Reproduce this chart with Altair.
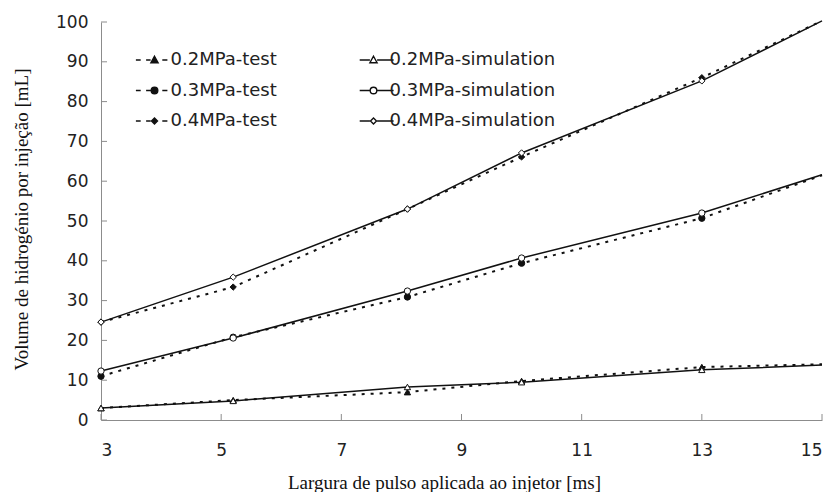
import altair as alt
import pandas as pd

# ---- data ----
pulse_ms = [3, 5.2, 8.1, 10, 13, 15]
test_02 = [3.0, 5.0, 7.0, 9.8, 13.3, 14.0]
sim_02 = [3.0, 4.8, 8.3, 9.5, 12.6, 13.8]
test_03 = [11.0, 20.8, 30.9, 39.4, 50.7, 61.5]
sim_03 = [12.3, 20.6, 32.4, 40.7, 52.0, 61.6]
test_04 = [24.6, 33.4, 53.0, 66.1, 86.0, 100.3]
sim_04 = [24.6, 35.9, 53.0, 67.1, 85.2, 100.3]

series_names = ["0.2MPa-test", "0.3MPa-test", "0.4MPa-test",
                "0.2MPa-simulation", "0.3MPa-simulation", "0.4MPa-simulation"]
series_values = [test_02, test_03, test_04, sim_02, sim_03, sim_04]
x_ticks = [3, 5, 7, 9, 11, 13, 15]
y_ticks = [0, 10, 20, 30, 40, 50, 60, 70, 80, 90, 100]

rows = []
for name, vals in zip(series_names, series_values):
    p, kind = name.split("-")
    for xv, yv in zip(pulse_ms, vals):
        rows.append(dict(series=name, pressure=p, kind=kind, x=xv, y=yv))
df = pd.DataFrame(rows)
# draw hollow (simulation) markers over the filled (test) ones
df["order"] = (df["kind"] == "simulation").astype(int)
df = df.sort_values(["order", "series"], kind="stable").reset_index(drop=True)

INK = "#111111"
AX = "#8c8c8c"

xscale = alt.Scale(domain=[3, 15], nice=False, zero=False)
yscale = alt.Scale(domain=[0, 100], nice=False)

X = alt.X("x:Q", scale=xscale, axis=alt.Axis(
    values=x_ticks, title="Largura de pulso aplicada ao injetor [ms]",
    titleX=343, titleY=68, titleBaseline="alphabetic", titleAnchor="start",
    titleAlign="center", labelBaseline="alphabetic", labelPadding=35))
Y = alt.Y("y:Q", scale=yscale, axis=alt.Axis(
    values=y_ticks, title="Volume de hidrogénio por injeção [mL]",
    titleX=-74, titleY=197, titleBaseline="alphabetic", titleAngle=270,
    titleAlign="center", labelPadding=13))

base = alt.Chart(df)

lines_test = base.transform_filter(alt.datum.kind == "test").mark_line(
    color=INK, strokeWidth=2, strokeDash=[3, 6]).encode(x=X, y=Y, detail="series:N")
lines_sim = base.transform_filter(alt.datum.kind == "simulation").mark_line(
    color=INK, strokeWidth=1.5).encode(x=X, y=Y, detail="series:N")

points = base.transform_filter(alt.datum.x < 15).mark_point(
    size=40, stroke=INK, strokeWidth=1, opacity=1, fillOpacity=1).encode(
    x=X, y=Y,
    shape=alt.Shape("pressure:N", scale=alt.Scale(
        domain=["0.2MPa", "0.3MPa", "0.4MPa"],
        range=["triangle-up", "circle", "diamond"]), legend=None),
    fill=alt.Fill("kind:N", scale=alt.Scale(
        domain=["test", "simulation"], range=[INK, "white"]), legend=None),
    order=alt.Order("order:Q"))

# legend symbols: line segment(s) + marker, in symbol units
tri = "M0,-1.25L1.2,0.9L-1.2,0.9Z"
circ = "M-1.1,0A1.1,1.1 0 1,0 1.1,0A1.1,1.1 0 1,0 -1.1,0Z"
dia = "M0,-1.0L1.0,0L0,1.0L-1.0,0Z"
dash_t = "M-6.2,0H-4.6M-2.8,0H-1.3M2.6,0H4.3"
line_s = "M-4.6,0H-1.2M1.2,0H6.7"
legend_paths = [dash_t + tri, dash_t + circ, dash_t + dia,
                line_s + tri, line_s + circ, line_s + dia]
legend_fills = [INK, INK, INK, "white", "white", "white"]

legend_def = alt.Legend(
    title=None, orient="none", legendX=44.5, legendY=29, columns=2,
    symbolSize=36, symbolStrokeWidth=1.4, symbolStrokeColor=INK,
    labelOffset=7, columnPadding=79, rowPadding=12.5, padding=0,
    labelLimit=400,
    labelFont="DejaVu Sans", labelFontSize=18, labelColor="#222222",
    symbolOpacity=1, symbolFillColor="white")

legend_layer = base.transform_filter("false").mark_point(
    opacity=1, stroke=INK, filled=False).encode(
    x=X, y=Y,
    shape=alt.Shape("series:N", scale=alt.Scale(domain=series_names, range=legend_paths),
                    legend=legend_def),
    fill=alt.Fill("series:N", scale=alt.Scale(domain=series_names, range=legend_fills),
                  legend=legend_def))

xt = alt.Chart(pd.DataFrame({"x": x_ticks})).mark_rule(color=AX, strokeWidth=1).encode(
    x=X, y=alt.value(398), y2=alt.value(392))
yt = alt.Chart(pd.DataFrame({"y": y_ticks})).mark_rule(color=AX, strokeWidth=1).encode(
    y=Y, x=alt.value(0), x2=alt.value(6))

chart = alt.layer(xt, yt, lines_test, lines_sim, points, legend_layer).resolve_scale(
    shape="independent", fill="independent").properties(
    width=721, height=398,
    autosize=alt.AutoSizeParams(type="none"),
    padding={"left": 101, "top": 22, "right": 13, "bottom": 72},
    background="white",
).configure_view(stroke=None).configure_axis(
    grid=False, ticks=False, tickSize=0, domainColor=AX, domainWidth=1,
    labelFont="DejaVu Sans", labelFontSize=17, labelColor="#222222",
    titleFont="Liberation Serif", titleFontSize=19, titleFontWeight="normal",
    titleColor=INK)

chart.save("out.html", embed_options={"renderer": "svg", "actions": False})
